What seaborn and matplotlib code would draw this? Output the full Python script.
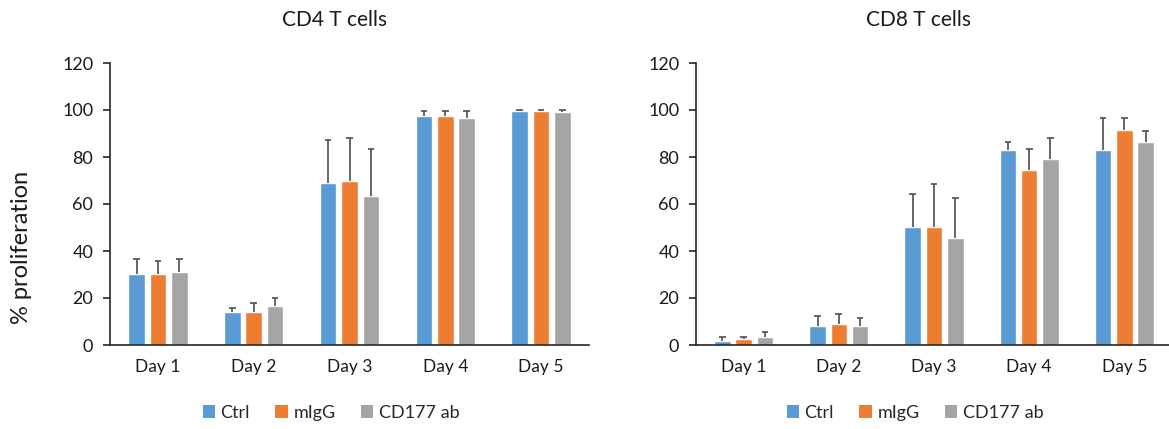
import numpy as np
import pandas as pd
import matplotlib
matplotlib.use("Agg")
import matplotlib.pyplot as plt
import seaborn as sns
from matplotlib.patches import Patch

days = ["Day 1", "Day 2", "Day 3", "Day 4", "Day 5"]
groups = ["Ctrl", "mIgG", "CD177 ab"]
colors = ["#5B9BD5", "#ED7D31", "#A5A5A5"]

# CD4 T cells: mean and top of error bar
cd4_ctrl = [30.3, 14.2, 68.9, 97.4, 99.7]
cd4_migg = [30.4, 14.2, 69.6, 97.4, 99.7]
cd4_cd177 = [31.2, 16.5, 63.6, 96.6, 99.1]
cd4_ctrl_top = [36.5, 15.6, 87.2, 99.4, 100.0]
cd4_migg_top = [35.6, 17.8, 87.9, 99.4, 100.0]
cd4_cd177_top = [36.4, 20.0, 83.4, 99.4, 100.0]

# CD8 T cells
cd8_ctrl = [1.8, 8.0, 50.4, 82.8, 82.8]
cd8_migg = [2.6, 8.8, 50.4, 74.4, 91.3]
cd8_cd177 = [3.4, 8.0, 45.7, 79.0, 86.5]
cd8_ctrl_top = [3.3, 12.5, 64.1, 86.5, 96.4]
cd8_migg_top = [3.3, 13.2, 68.6, 83.4, 96.4]
cd8_cd177_top = [5.5, 11.6, 62.5, 87.9, 90.9]


def make_df(vals, tops):
    rows = []
    for g, v, t in zip(groups, vals, tops):
        for d, m, top in zip(days, v, t):
            rows.append({"day": d, "group": g, "value": m, "top": top})
    return pd.DataFrame(rows)


cd4 = make_df([cd4_ctrl, cd4_migg, cd4_cd177], [cd4_ctrl_top, cd4_migg_top, cd4_cd177_top])
cd8 = make_df([cd8_ctrl, cd8_migg, cd8_cd177], [cd8_ctrl_top, cd8_migg_top, cd8_cd177_top])

sns.set_theme(style="white")
plt.rcParams["font.family"] = ["Lato", "DejaVu Sans"]

fig = plt.figure(figsize=(11.69, 4.29), dpi=100)
ax1 = fig.add_axes([110 / 1169, 1 - 345 / 429, 479 / 1169, 282 / 429])
ax2 = fig.add_axes([696 / 1169, 1 - 345 / 429, 476 / 1169, 282 / 429])

for ax, df in [(ax1, cd4), (ax2, cd8)]:
    sns.barplot(data=df, x="day", y="value", hue="group", hue_order=groups,
                order=days, palette=colors, width=0.67, gap=0.22,
                saturation=1, legend=False, ax=ax)
    # one-sided (upper) error bars with a cap only at the top
    for cont, g in zip(ax.containers, groups):
        sub = df[df["group"] == g].set_index("day").loc[days]
        xs = np.array([b.get_x() + b.get_width() / 2 for b in cont])
        ax.vlines(xs, sub["value"].values, sub["top"].values, color="#595959", lw=1.3, zorder=3)
        ax.hlines(sub["top"].values, xs - 0.035, xs + 0.035, color="#595959", lw=1.3, zorder=3)
    ax.set_ylim(0, 120)
    ax.set_xlim(-0.5, 4.5)
    ax.set_yticks(range(0, 121, 20))
    ax.set_xlabel("")
    ax.set_ylabel("")
    sns.despine(ax=ax)
    for s in ["left", "bottom"]:
        ax.spines[s].set_color("#262626")
        ax.spines[s].set_linewidth(1.2)
    ax.set_xticks(np.arange(-0.5, 5, 1), minor=True)
    ax.tick_params(axis="x", which="major", length=0, pad=10, labelsize=12.5, labelcolor="#1a1a1a")
    ax.tick_params(axis="x", which="minor", length=6, width=1.2, color="#262626", direction="out")
    ax.tick_params(axis="y", length=5, width=1.2, color="#262626", direction="out",
                   labelsize=13, labelcolor="#1a1a1a", pad=7, left=True)

fig.text(335 / 1169, 1 - 20 / 429, "CD4 T cells", ha="center", va="center", fontsize=15, color="#1a1a1a")
fig.text(918 / 1169, 1 - 20 / 429, "CD8 T cells", ha="center", va="center", fontsize=15, color="#1a1a1a")
fig.text(22 / 1169, 1 - 247 / 429, "% proliferation", ha="center", va="center",
         rotation=90, fontsize=17, color="#1a1a1a")

handles = [Patch(facecolor=c, edgecolor="none", label=g) for c, g in zip(colors, groups)]
for cx in [331, 915]:
    fig.legend(handles=handles, loc="center", bbox_to_anchor=(cx / 1169, 1 - 413 / 429),
               ncol=3, frameon=False, fontsize=13, handlelength=0.7, handleheight=0.7,
               handletextpad=0.3, columnspacing=1.4)

plt.savefig("out.png", dpi=100)
